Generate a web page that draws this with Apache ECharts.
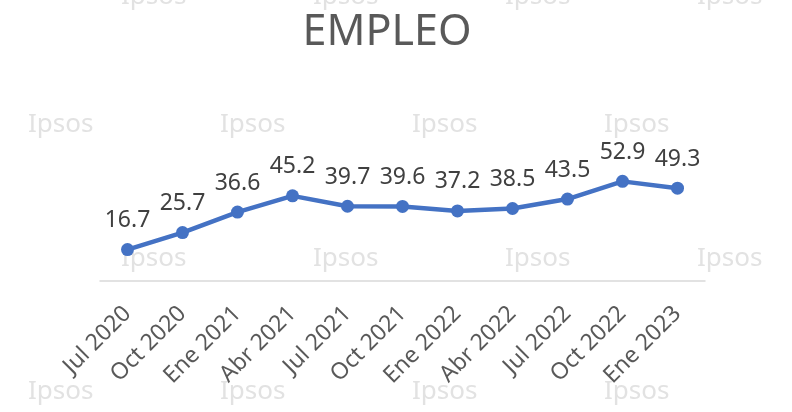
<!DOCTYPE html>
<html>
<head>
<meta charset="utf-8">
<title>EMPLEO</title>
<script src="https://cdn.jsdelivr.net/npm/echarts@6/dist/echarts.min.js"></script>
<style>
  html, body { margin: 0; padding: 0; background: #fff; }
  #main { width: 792px; height: 412px; }
</style>
</head>
<body>
<div id="main"></div>
<script type="text/javascript">
  // datos
  var periods = ['Jul 2020', 'Oct 2020', 'Ene 2021', 'Abr 2021', 'Jul 2021', 'Oct 2021',
                 'Ene 2022', 'Abr 2022', 'Jul 2022', 'Oct 2022', 'Ene 2023'];
  var empleo = [16.7, 25.7, 36.6, 45.2, 39.7, 39.6, 37.2, 38.5, 43.5, 52.9, 49.3];

  var myChart = echarts.init(document.getElementById('main'));

  // marca de agua "Ipsos"
  var marks = [];
  var rowsA = [0, 262], rowsB = [128, 395];
  rowsA.forEach(function (y) {
    [121, 313, 505, 697].forEach(function (x) {
      marks.push({ type: 'text', left: x, top: y - 16, z: -1, silent: true,
        style: { text: 'Ipsos', fill: '#e2e2e2', font: '26px "Noto Sans"' } });
    });
  });
  rowsB.forEach(function (y) {
    [28, 220, 412, 604].forEach(function (x) {
      marks.push({ type: 'text', left: x, top: y - 16, z: -1, silent: true,
        style: { text: 'Ipsos', fill: '#e2e2e2', font: '26px "Noto Sans"' } });
    });
  });

  var option = {
    backgroundColor: '#ffffff',
    animation: false,
    title: {
      text: 'EMPLEO',
      left: 382,
      top: 6,
      textAlign: 'center',
      textStyle: { fontFamily: 'Noto Sans', fontSize: 43, fontWeight: 'normal', color: '#595959' }
    },
    graphic: marks,
    grid: { left: 100, right: 87, top: 168, bottom: 131 },
    xAxis: {
      type: 'category',
      data: periods,
      boundaryGap: true,
      axisLine: { lineStyle: { color: '#d9d9d9', width: 1.5 } },
      axisTick: { show: false },
      axisLabel: {
        rotate: 45,
        interval: 0,
        margin: 29,
        fontFamily: 'Noto Sans',
        fontSize: 23,
        color: '#595959'
      }
    },
    yAxis: {
      type: 'value',
      min: 0,
      max: 60,
      show: false,
      splitLine: { show: false }
    },
    series: [{
      name: 'Empleo',
      type: 'line',
      data: empleo,
      symbol: 'circle',
      symbolSize: 13,
      lineStyle: { color: '#4472c4', width: 4.5 },
      itemStyle: { color: '#4472c4' },
      label: {
        show: true,
        position: 'top',
        distance: 11,
        fontFamily: 'Noto Sans',
        fontSize: 23,
        color: '#404040',
        formatter: function (p) { return p.value.toFixed(1); }
      }
    }]
  };

  myChart.setOption(option);
</script>
</body>
</html>
